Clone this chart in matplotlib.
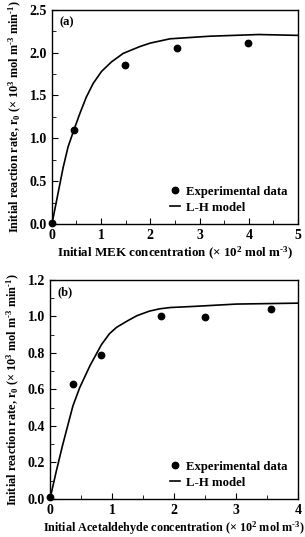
import matplotlib
matplotlib.use('Agg')
import matplotlib.pyplot as plt
from matplotlib.ticker import MultipleLocator

plt.rcParams['font.family'] = 'Liberation Serif'
plt.rcParams['font.weight'] = 'bold'
plt.rcParams['mathtext.fontset'] = 'custom'
plt.rcParams['mathtext.rm'] = 'Liberation Serif:bold'
plt.rcParams['mathtext.default'] = 'regular'

# (a) MEK
mek_x = [0.0, 0.45, 1.48, 2.55, 3.99]
mek_y = [0.01, 1.10, 1.85, 2.05, 2.11]
mek_fit_x = [0.0, 0.04, 0.13, 0.23, 0.33, 0.45, 0.57, 0.70, 0.84, 1.01, 1.21, 1.45,
             1.79, 2.0, 2.4, 3.2, 4.2, 5.0]
mek_fit_y = [0.0, 0.11, 0.37, 0.66, 0.90, 1.10, 1.29, 1.48, 1.64, 1.78, 1.89, 1.99,
             2.07, 2.11, 2.16, 2.19, 2.21, 2.20]

# (b) Acetaldehyde
ace_x = [0.0, 0.37, 0.83, 1.79, 2.50, 3.56]
ace_y = [0.01, 0.63, 0.79, 1.0, 0.994, 1.04]
ace_fit_x = [0.0, 0.1, 0.2, 0.3, 0.37, 0.48, 0.645, 0.83, 0.96, 1.075, 1.25, 1.40,
             1.6, 1.77, 1.94, 2.31, 3.01, 4.0]
ace_fit_y = [0.0, 0.15, 0.29, 0.42, 0.51, 0.61, 0.73, 0.845, 0.905, 0.94, 0.975, 1.003,
             1.028, 1.041, 1.048, 1.054, 1.067, 1.072]

ylab = r'Initial reaction rate, r$_0$ (× 10$^3$ mol m$^{\text{-}3}$ min$^{\text{-}1}$)'

fig = plt.figure(figsize=(3.05, 5.37), dpi=100)
ax1 = fig.add_axes([0.170, 0.583, 0.807, 0.399])
ax2 = fig.add_axes([0.164, 0.071, 0.813, 0.408])


def style(ax, xmax, ymax, ymaj, ymin, tag, xlabel, xfs):
    ax.set_xlim(0, xmax)
    ax.set_ylim(0, ymax)
    ax.xaxis.set_major_locator(MultipleLocator(1))
    ax.xaxis.set_minor_locator(MultipleLocator(0.5))
    ax.yaxis.set_major_locator(MultipleLocator(ymaj))
    ax.yaxis.set_minor_locator(MultipleLocator(ymin))
    ax.tick_params(which='both', direction='in', top=False, right=False, labelsize=10)
    ax.tick_params(which='major', length=4)
    ax.tick_params(which='minor', length=3)
    ax.set_xlabel(xlabel, fontsize=xfs, fontweight='bold', labelpad=2)
    ax.set_ylabel(ylab, fontsize=8.8, fontweight='bold', labelpad=4)
    ax.text(0.03, 0.97, tag, transform=ax.transAxes, fontsize=9, fontweight='bold', va='top')
    for s in ax.spines.values():
        s.set_linewidth(1.0)
    ax.legend(loc='lower right', frameon=False, fontsize=9.2, handlelength=0.8,
              handletextpad=0.5, borderaxespad=0.4, labelspacing=0.3)


ax1.plot(mek_x, mek_y, 'o', color='black', ms=4.6, clip_on=False, label='Experimental data')
ax1.plot(mek_fit_x, mek_fit_y, '-', color='black', lw=1.2, label='L-H model')
style(ax1, 5, 2.5, 0.5, 0.25, '(a)',
      r'Initial MEK concentration (× 10$^2$ mol m$^{\text{-}3}$)', 9.4)

ax2.plot(ace_x, ace_y, 'o', color='black', ms=4.6, clip_on=False, label='Experimental data')
ax2.plot(ace_fit_x, ace_fit_y, '-', color='black', lw=1.2, label='L-H model')
style(ax2, 4, 1.2, 0.2, 0.1, '(b)',
      r'Initial Acetaldehyde concentration (× 10$^2$ mol m$^{\text{-}3}$)', 8.7)

fig.savefig('out.png', dpi=100)
